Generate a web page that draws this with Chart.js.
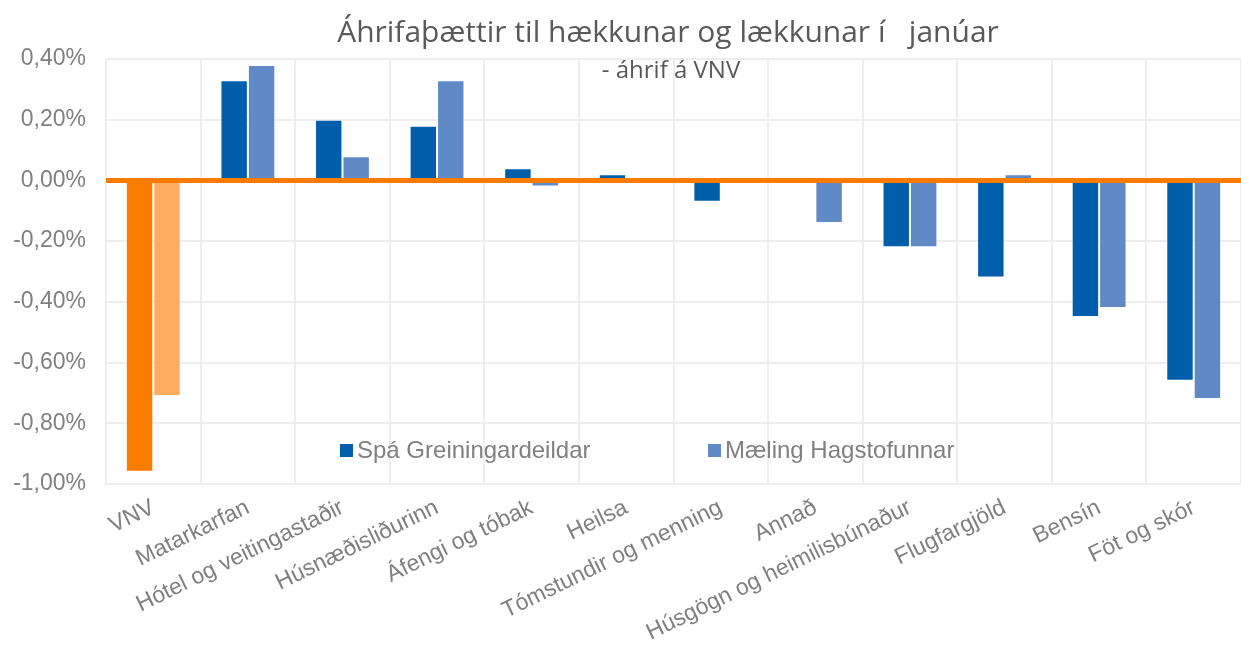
<!DOCTYPE html>
<html>
<head>
<meta charset="utf-8">
<script src="https://cdn.jsdelivr.net/npm/chart.js@4.4.0/dist/chart.umd.min.js"></script>
<style>
  html, body { margin: 0; padding: 0; background: #fff; }
  #wrap { width: 1241px; height: 651px; position: relative; }
</style>
</head>
<body>
<div id="wrap"><canvas id="grafico"></canvas></div>
<script>
const flokkar = ['VNV', 'Matarkarfan', 'Hótel og veitingastaðir', 'Húsnæðisliðurinn', 'Áfengi og tóbak', 'Heilsa',
  'Tómstundir og menning', 'Annað', 'Húsgögn og heimilisbúnaður', 'Flugfargjöld', 'Bensín', 'Föt og skór'];
const spa = [-0.96, 0.33, 0.20, 0.18, 0.04, 0.02, -0.07, 0.00, -0.22, -0.32, -0.45, -0.66];
const maeling = [-0.71, 0.38, 0.08, 0.33, -0.02, 0.01, -0.01, -0.14, -0.22, 0.02, -0.42, -0.72];
const yMin = -1.0, yMax = 0.4, yStep = 0.2;
const titill = 'Áhrifaþættir til hækkunar og lækkunar í   janúar';
const undirtitill = '- áhrif á VNV';
const seriuNofn = ['Spá Greiningardeildar', 'Mæling Hagstofunnar'];

const dokkBlar = '#005EAB', ljosBlar = '#5F8AC6';
const dokkAppelsinu = '#F97B00', ljosAppelsinu = '#FFAC60';

// fyrsti flokkurinn (VNV) er appelsinugulur
function litir(grunn, vnv) {
  return flokkar.map(function(f, i) { return i === 0 ? vnv : grunn; });
}

const gridLitur = '#EEEEEE';
const textaLitur = '#808080';

const nullLina = {
  id: 'nullLina',
  afterDatasetsDraw(chart) {
    const ctx = chart.ctx, a = chart.chartArea;
    const y = chart.scales.y.getPixelForValue(0);
    ctx.save();
    ctx.strokeStyle = dokkAppelsinu;
    ctx.lineWidth = 5;
    ctx.beginPath();
    ctx.moveTo(a.left, y);
    ctx.lineTo(a.right, y);
    ctx.stroke();
    ctx.restore();
  }
};

const titlar = {
  id: 'titlar',
  afterDraw(chart) {
    const ctx = chart.ctx;
    ctx.save();
    ctx.fillStyle = '#595959';
    ctx.textAlign = 'center';
    ctx.textBaseline = 'alphabetic';
    ctx.font = '30px "Open Sans"';
    ctx.fillText(titill, 668, 42);
    ctx.font = '24px "Open Sans"';
    ctx.fillText(undirtitill, 671, 78);

    // skýringar
    ctx.font = '24px "Liberation Sans", Arial';
    ctx.textAlign = 'left';
    ctx.textBaseline = 'middle';
    const xs = [340, 708];
    chart.data.datasets.forEach(function(ds, i) {
      ctx.fillStyle = i === 0 ? dokkBlar : ljosBlar;
      ctx.fillRect(xs[i], 444, 13, 13);
      ctx.fillStyle = textaLitur;
      ctx.fillText(ds.label, xs[i] + 17, 451);
    });
    ctx.restore();
  }
};

Chart.defaults.font.family = '"Liberation Sans", Arial';
Chart.defaults.font.size = 23;
Chart.defaults.color = textaLitur;

const ctx = document.getElementById('grafico').getContext('2d');
const grafid = new Chart(ctx, {
  type: 'bar',
  data: {
    labels: flokkar,
    datasets: [{
      label: seriuNofn[0],
      data: spa,
      backgroundColor: litir(dokkBlar, dokkAppelsinu),
      borderColor: 'rgba(255,255,255,0.35)',
      borderWidth: 1
    }, {
      label: seriuNofn[1],
      data: maeling,
      backgroundColor: litir(ljosBlar, ljosAppelsinu),
      borderColor: 'rgba(255,255,255,0.35)',
      borderWidth: 1
    }]
  },
  options: {
    responsive: true,
    maintainAspectRatio: false,
    animation: false,
    layout: { padding: { top: 59, left: 0, right: 0, bottom: 0 } },
    datasets: { bar: { categoryPercentage: 0.58, barPercentage: 1.0 } },
    plugins: {
      legend: { display: false },
      title: { display: false },
      tooltip: { enabled: false }
    },
    scales: {
      x: {
        grid: { color: gridLitur, lineWidth: 2, drawTicks: false, offset: true },
        border: { color: gridLitur, width: 2 },
        ticks: { minRotation: 26, maxRotation: 26, padding: 10, autoSkip: false, color: textaLitur },
        afterFit: function(s) { s.height = 167; }
      },
      y: {
        min: yMin,
        max: yMax,
        grid: { color: gridLitur, lineWidth: 2, drawTicks: false },
        border: { color: gridLitur, width: 2 },
        ticks: {
          stepSize: yStep,
          padding: 20,
          color: textaLitur,
          callback: function(v) {
            if (Math.abs(v) < 1e-9) v = 0;
            return v.toFixed(2).replace('.', ',') + '%';
          }
        },
        afterFit: function(s) { s.width = 106; }
      }
    }
  },
  plugins: [nullLina, titlar]
});
</script>
</body>
</html>
